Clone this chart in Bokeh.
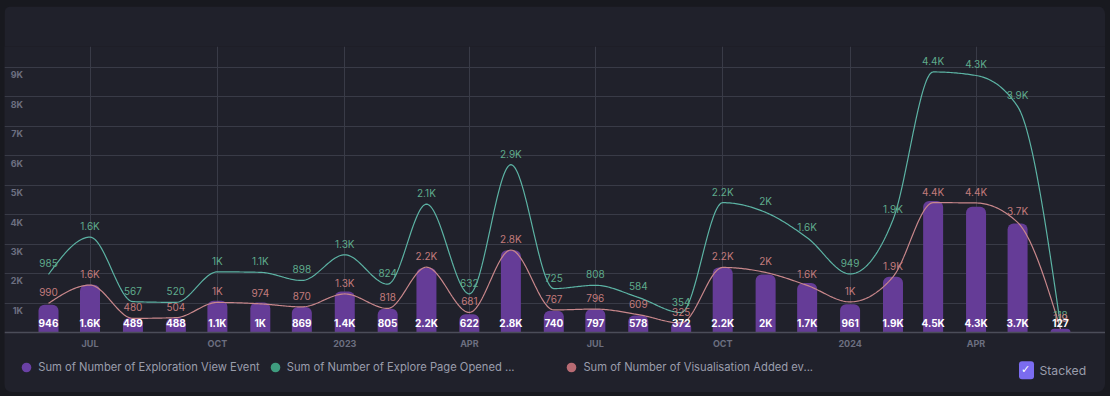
from datetime import datetime
import numpy as np
from bokeh.plotting import figure
from bokeh.models import (ColumnDataSource, Range1d, FixedTicker, Legend, LegendItem, Label)
from bokeh.core.properties import value
from bokeh.embed import file_html
from bokeh.resources import INLINE

# ---------------- data ----------------
months = ["2022-06", "2022-07", "2022-08", "2022-09", "2022-10", "2022-11", "2022-12",
          "2023-01", "2023-02", "2023-03", "2023-04", "2023-05", "2023-06", "2023-07",
          "2023-08", "2023-09", "2023-10", "2023-11", "2023-12", "2024-01", "2024-02",
          "2024-03", "2024-04", "2024-05", "2024-06"]
exploration_view = [946, 1620, 489, 488, 1080, 1020, 869, 1390, 805, 2190, 622, 2790, 740,
                    797, 578, 372, 2210, 1970, 1680, 961, 1890, 4470, 4270, 3700, 127]
visualisation_added = [990, 1610, 480, 504, 1020, 974, 870, 1310, 818, 2220, 681, 2800, 767,
                       796, 609, 325, 2210, 2040, 1600, 1040, 1890, 4410, 4400, 3740, 119]
explore_page_opened = [985, 1630, 567, 520, 1040, 1070, 898, 1330, 824, 2140, 632, 2900, 725,
                       808, 584, 354, 2200, 2040, 1620, 949, 1940, 4440, 4330, 3940, 118]
series_names = ["Sum of Number of Exploration View Event",
                "Sum of Number of Explore Page Opened ...",
                "Sum of Number of Visualisation Added ev..."]
xtick_dates = ["2022-07", "2022-10", "2023-01", "2023-04", "2023-07", "2023-10", "2024-01", "2024-04"]
xtick_labels = ["JUL", "OCT", "2023", "APR", "JUL", "OCT", "2024", "APR"]
ytick_values = [1000, 2000, 3000, 4000, 5000, 6000, 7000, 8000, 9000]
ytick_labels = ["1K", "2K", "3K", "4K", "5K", "6K", "7K", "8K", "9K"]

# ---------------- styling ----------------
PAGE_BG = "#18191f"
CARD_BG = "#20212b"
GRID = "#393b47"
AXIS = "#4b4d59"
TICK_TXT = "#6c6f80"
PURPLE = "#653c97"
GREEN_LINE = "#5cb3a4"
GREEN_TXT = "#5fab8b"
RED_LINE = "#c8878b"
RED_TXT = "#c27b7c"
LEG_TXT = "#9a9dab"
FONT = "Inter"
DAY = 86400000.0


def to_ms(s):
    return (datetime.strptime(s, "%Y-%m") - datetime(1970, 1, 1)).total_seconds() * 1000.0


def fmt(v):
    if v >= 1000:
        s = f"{v / 1000:.1f}"
        if s.endswith(".0"):
            s = s[:-2]
        return s + "K"
    return str(v)


def monotone(xs, ys, n=30):
    xs = np.asarray(xs, float)
    ys = np.asarray(ys, float)
    N = len(xs)
    h = np.diff(xs)
    s = np.diff(ys) / h
    t = np.zeros(N)
    for i in range(1, N - 1):
        h0, h1, s0, s1 = h[i - 1], h[i], s[i - 1], s[i]
        p = (s0 * h1 + s1 * h0) / (h0 + h1)
        t[i] = (np.sign(s0) + np.sign(s1)) * min(abs(s0), abs(s1), 0.5 * abs(p))
    t[0] = (3 * s[0] - t[1]) / 2
    t[-1] = (3 * s[-1] - t[-2]) / 2
    ox, oy = [], []
    for i in range(N - 1):
        u = np.linspace(0, 1, n, endpoint=(i == N - 2))
        x0, x1, y0, y1 = xs[i], xs[i + 1], ys[i], ys[i + 1]
        c1 = y0 + h[i] * t[i] / 3
        c2 = y1 - h[i] * t[i + 1] / 3
        yy = (1 - u) ** 3 * y0 + 3 * (1 - u) ** 2 * u * c1 + 3 * (1 - u) * u ** 2 * c2 + u ** 3 * y1
        ox.extend(x0 + u * h[i])
        oy.extend(yy)
    return ox, oy


x_ms = [to_ms(m) for m in months]
stack_green = [a + b for a, b in zip(visualisation_added, explore_page_opened)]

# ---------------- layout ----------------
W, H = 1101, 386
TOP = 40
px_per_day = 1012.0 / 731.0
px_per_unit = 29.44 / 1000.0
x_start = x_ms[0] - 44 / px_per_day * DAY
x_end = x_ms[-1] + 45 / px_per_day * DAY
y_top = 286 / px_per_unit
y_bottom = -60 / px_per_unit

src = ColumnDataSource(dict(
    x=x_ms,
    base=[0] * len(months),
    ev=exploration_view,
    va=visualisation_added,
    st=stack_green,
    ev_lbl=[fmt(v) for v in exploration_view],
    va_lbl=[fmt(v) for v in visualisation_added],
    ep_lbl=[fmt(v) for v in explore_page_opened],
))

p = figure(width=W, height=H, output_backend="svg", toolbar_location=None,
           x_axis_type="datetime",
           x_range=Range1d(x_start, x_end), y_range=Range1d(y_bottom, y_top),
           min_border_left=0, min_border_right=0, min_border_top=TOP, min_border_bottom=0)
p.background_fill_color = CARD_BG
p.border_fill_color = CARD_BG
p.outline_line_color = None

# x axis drawn at value 0 inside the frame
xt_ms = [int(to_ms(d)) for d in xtick_dates]
p.xaxis.fixed_location = 0
p.xaxis.ticker = FixedTicker(ticks=xt_ms)
p.xaxis.major_label_overrides = {k: v for k, v in zip(xt_ms, xtick_labels)}
p.xaxis.axis_line_color = AXIS
p.xaxis.axis_line_width = 1.5
p.xaxis.major_tick_line_color = None
p.xaxis.minor_tick_line_color = None
p.xaxis.major_tick_out = 0
p.xaxis.major_tick_in = 0
p.xaxis.major_label_standoff = 5
p.xaxis.major_label_text_font = FONT
p.xaxis.major_label_text_font_size = "9px"
p.xaxis.major_label_text_font_style = "bold"
p.xaxis.major_label_text_color = TICK_TXT

# y axis labels drawn inside the frame, just below each grid line
label_drop = int(round(7.3 / px_per_unit))
ylab_pos = [v - label_drop for v in ytick_values]
p.yaxis.ticker = FixedTicker(ticks=ylab_pos)
p.yaxis.major_label_overrides = {k: v for k, v in zip(ylab_pos, ytick_labels)}
p.yaxis.fixed_location = x_start + 18.5 / px_per_day * DAY
p.yaxis.axis_line_color = None
p.yaxis.major_tick_line_color = None
p.yaxis.minor_tick_line_color = None
p.yaxis.major_tick_out = 0
p.yaxis.major_tick_in = 0
p.yaxis.major_label_standoff = 0
p.yaxis.major_label_text_font = FONT
p.yaxis.major_label_text_font_size = "9px"
p.yaxis.major_label_text_font_style = "bold"
p.yaxis.major_label_text_color = TICK_TXT

# grids: vertical lines only between the baseline and the top of the frame
xg = p.xgrid[0]
if "cross_bounds" in xg.properties():
    xg.ticker = FixedTicker(ticks=xt_ms)
    xg.grid_line_color = GRID
    xg.cross_bounds = (0, y_top)
else:
    xg.visible = False
    p.segment(x0=xt_ms, y0=[0] * len(xt_ms), x1=xt_ms, y1=[y_top] * len(xt_ms),
              line_color=GRID, line_width=1)
p.ygrid.ticker = FixedTicker(ticks=ytick_values)
p.ygrid.grid_line_color = GRID

# bars
p.vbar(x="x", top="ev", width=14.45 * DAY, source=src, fill_color=PURPLE,
       line_color=None, border_radius=(6, 6, 0, 0))

# smooth lines
rx, ry = monotone(x_ms, visualisation_added)
gx, gy = monotone(x_ms, stack_green)
p.line(rx, ry, line_color=RED_LINE, line_width=1.2)
p.line(gx, gy, line_color=GREEN_LINE, line_width=1.2)

# value labels
p.text(x="x", y="st", text="ep_lbl", source=src, text_color=GREEN_TXT,
       text_font=value(FONT), text_font_size="10px", text_align="center",
       text_baseline="middle", y_offset=-11)
p.text(x="x", y="va", text="va_lbl", source=src, text_color=RED_TXT,
       text_font=value(FONT), text_font_size="10px", text_align="center",
       text_baseline="middle", y_offset=-11)
p.text(x="x", y="base", text="ev_lbl", source=src, text_color="#ffffff",
       text_font=value(FONT), text_font_size="10px", text_font_style="bold",
       text_align="center", text_baseline="middle", y_offset=-9.5)

# legend markers: zero-size points on each series (only their legend dot shows)
leg_colors = ["#6a41a5", "#3f9c7f", "#b86b73"]
leg_cols = ["ev", "st", "va"]
leg_x = [10.3, 258.8, 555.4]
for name, col, ycol, lx in zip(series_names, leg_colors, leg_cols, leg_x):
    r = p.scatter(x="x", y=ycol, source=src, marker="circle", size=0,
                  fill_color=col, line_color=None)
    lg = Legend(items=[LegendItem(label=name, renderers=[r])], location=(lx, 13.3),
                orientation="horizontal", glyph_width=24, glyph_height=24,
                label_standoff=0, padding=0, margin=0, spacing=0,
                label_text_font=FONT, label_text_font_size="11.2px",
                label_text_color=LEG_TXT, background_fill_alpha=0,
                border_line_alpha=0, label_height=24)
    p.add_layout(lg, "center")

# "Stacked" checkbox
p.add_layout(Label(x=1022, y=22.3, x_units="screen", y_units="screen", text="✓",
                   text_color="#ffffff", text_font_size="11px", text_align="center",
                   text_baseline="middle", background_fill_color="#7b6cf0",
                   padding=(2, 4, 2, 4), border_radius=3))
p.add_layout(Label(x=1035, y=22.3, x_units="screen", y_units="screen", text="Stacked",
                   text_color=LEG_TXT, text_font=FONT, text_font_size="12.2px",
                   text_align="left", text_baseline="middle"))

p.styles = {"border-radius": "8px", "overflow": "hidden"}

html = file_html(p, INLINE)
html = html.replace(
    "<head>",
    "<head><style>html, body {background:%s !important;} "
    "body {margin:0 !important; padding:6px 0 0 4px !important;}</style>" % PAGE_BG, 1)
open("out.html", "w").write(html)
